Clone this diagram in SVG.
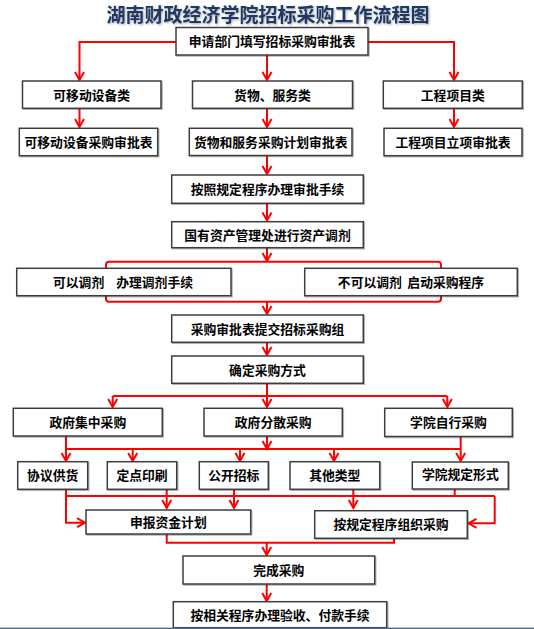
<svg xmlns="http://www.w3.org/2000/svg" width="534" height="629" viewBox="0 0 534 629">
<defs>
<style>
.b{fill:#fff;stroke:#3c3c3c;stroke-width:1.5;filter:url(#sh)}
.t{font-family:"Noto Sans CJK SC","Liberation Sans",sans-serif;font-size:12.8px;font-weight:bold;fill:#000;text-anchor:middle}
.c{fill:none;stroke:#ff0000;stroke-width:2}
.a{marker-end:url(#ah)}
</style>
<filter id="sh" x="-5%" y="-20%" width="110%" height="150%">
<feDropShadow dx="1" dy="1" stdDeviation="0.6" flood-color="#000" flood-opacity="0.3"/>
</filter>
<filter id="tsh" x="-5%" y="-30%" width="110%" height="160%">
<feDropShadow dx="1" dy="1" stdDeviation="0.8" flood-color="#000" flood-opacity="0.35"/>
</filter>
<marker id="ah" markerUnits="userSpaceOnUse" markerWidth="14" markerHeight="14" refX="9" refY="5" orient="auto" overflow="visible">
<path d="M1,0.5 L9,5 L1,9.5" fill="none" stroke="#ff0000" stroke-width="2"/>
</marker>
</defs>
<rect width="534" height="629" fill="#fff"/>
<text x="268" y="22" font-family="Noto Sans CJK SC, sans-serif" font-size="19" font-weight="bold" fill="#1F3864" text-anchor="middle" filter="url(#tsh)">湖南财政经济学院招标采购工作流程图</text>

<g id="connectors">
<path class="c a" d="M176,42 H79.5 V80"/>
<path class="c a" d="M368,42 H454 V80"/>
<path class="c a" d="M267,55 V80"/>
<path class="c a" d="M79.5,108.3 V127"/>
<path class="c a" d="M267,108.3 V127"/>
<path class="c a" d="M454,108.3 V127"/>
<path class="c a" d="M267,155.5 V174"/>
<path class="c a" d="M267,203.3 V220.5"/>
<path class="c a" d="M267,247.7 V261"/>
<rect x="106" y="261.7" width="335" height="40" rx="3" class="c"/>
<path class="c a" d="M267,301.7 V314"/>
<path class="c a" d="M267,342.3 V355"/>
<path class="c a" d="M267,383.3 V407"/>
<path class="c" d="M112.7,396 H447.3"/>
<path class="c a" d="M112.7,396 V407"/>
<path class="c a" d="M447.3,396 V407"/>
<path class="c a" d="M66,436 V461"/>
<path class="c a" d="M460.7,436.5 V461"/>
<path class="c" d="M66,449 H460.7"/>
<path class="c a" d="M267,436 V449"/>
<path class="c a" d="M132.7,449 V461"/>
<path class="c a" d="M240,449 V461"/>
<path class="c a" d="M334,449 V461"/>
<path class="c" d="M66,496 H494.7"/>
<path class="c a" d="M66,489.3 V522.7 H85"/>
<path class="c a" d="M166.7,489.3 V508"/>
<path class="c a" d="M234,489.3 V508"/>
<path class="c a" d="M353.3,489.3 V508"/>
<path class="c" d="M454.7,489 V496"/>
<path class="c a" d="M494.7,496 V523.3 H468.5"/>
<path class="c" d="M166.7,534 V542.7 H394 V538.3"/>
<path class="c a" d="M266.7,542.7 V555"/>
<path class="c a" d="M266.7,584 V601"/>
</g>

<g id="n1"><rect class="b" x="176" y="27.5" width="192" height="27.5"/><text class="t" x="272" y="46.2">申请部门填写招标采购审批表</text></g>
<g id="n2"><rect class="b" x="22.5" y="81" width="138.5" height="27.3"/><text class="t" x="91.7" y="99.6">可移动设备类</text></g>
<g id="n3"><rect class="b" x="192.5" y="81" width="160" height="27.3"/><text class="t" x="272.5" y="99.6">货物、服务类</text></g>
<g id="n4"><rect class="b" x="383.3" y="81" width="139" height="27.3"/><text class="t" x="452.8" y="99.6">工程项目类</text></g>
<g id="n5"><rect class="b" x="19.3" y="128.3" width="138.4" height="27.4"/><text class="t" x="88.5" y="147">可移动设备采购审批表</text></g>
<g id="n6"><rect class="b" x="189.3" y="128.3" width="162.7" height="27.2"/><text class="t" x="270.7" y="147">货物和服务采购计划审批表</text></g>
<g id="n7"><rect class="b" x="384" y="128.3" width="138" height="27.4"/><text class="t" x="453" y="147">工程项目立项审批表</text></g>
<g id="n8"><rect class="b" x="171.7" y="175" width="191.6" height="28.3"/><text class="t" x="267.5" y="194.1">按照规定程序办理审批手续</text></g>
<g id="n9"><rect class="b" x="171.7" y="221.7" width="191.6" height="26"/><text class="t" x="267.5" y="239.6">国有资产管理处进行资产调剂</text></g>
<g id="n10"><rect class="b" x="16.7" y="268.3" width="214.3" height="27.4"/><text class="t" x="123" y="287">可以调剂<tspan dx="12">办理调剂手续</tspan></text></g>
<g id="n11"><rect class="b" x="304.7" y="268.3" width="212.6" height="27.4"/><text class="t" x="411" y="287">不可以调剂<tspan dx="5.5">启动采购程序</tspan></text></g>
<g id="n12"><rect class="b" x="171.7" y="315" width="191.6" height="27.3"/><text class="t" x="267.5" y="333.6">采购审批表提交招标采购组</text></g>
<g id="n13"><rect class="b" x="171.7" y="356" width="191.6" height="27.3"/><text class="t" x="267.5" y="374.6">确定采购方式</text></g>
<g id="n14"><rect class="b" x="13.3" y="408.3" width="149" height="27.7"/><text class="t" x="87.8" y="427.1">政府集中采购</text></g>
<g id="n15"><rect class="b" x="204" y="408.3" width="138.3" height="27.7"/><text class="t" x="273.2" y="427.1">政府分散采购</text></g>
<g id="n16"><rect class="b" x="384.7" y="408.3" width="127.6" height="28.2"/><text class="t" x="448.5" y="427.3">学院自行采购</text></g>
<g id="n17"><rect class="b" x="17.7" y="461.7" width="70" height="27.6"/><text class="t" x="52.7" y="480.4">协议供货</text></g>
<g id="n18"><rect class="b" x="107.3" y="461.7" width="69.4" height="27.6"/><text class="t" x="142" y="480.4">定点印刷</text></g>
<g id="n19"><rect class="b" x="199.3" y="461.7" width="69" height="27.6"/><text class="t" x="233.8" y="480.4">公开招标</text></g>
<g id="n20"><rect class="b" x="290" y="461.7" width="89.7" height="27.6"/><text class="t" x="334.8" y="480.4">其他类型</text></g>
<g id="n21"><rect class="b" x="412.3" y="462" width="96" height="27"/><text class="t" x="460.3" y="478.6">学院规定形式</text></g>
<g id="n22"><rect class="b" x="86" y="510" width="164.7" height="24"/><text class="t" x="168.3" y="526.8">申报资金计划</text></g>
<g id="n23"><rect class="b" x="314.7" y="510.7" width="152.6" height="27.6"/><text class="t" x="391" y="529.3">按规定程序组织采购</text></g>
<g id="n24"><rect class="b" x="183" y="556" width="191.7" height="28"/><text class="t" x="278.8" y="574.8">完成采购</text></g>
<g id="n25"><rect class="b" x="173.3" y="601.7" width="213.4" height="26"/><text class="t" x="280" y="619.6">按相关程序办理验收、付款手续</text></g>
<rect x="0" y="627.6" width="534" height="1.4" fill="#4F6E8E"/>
</svg>
